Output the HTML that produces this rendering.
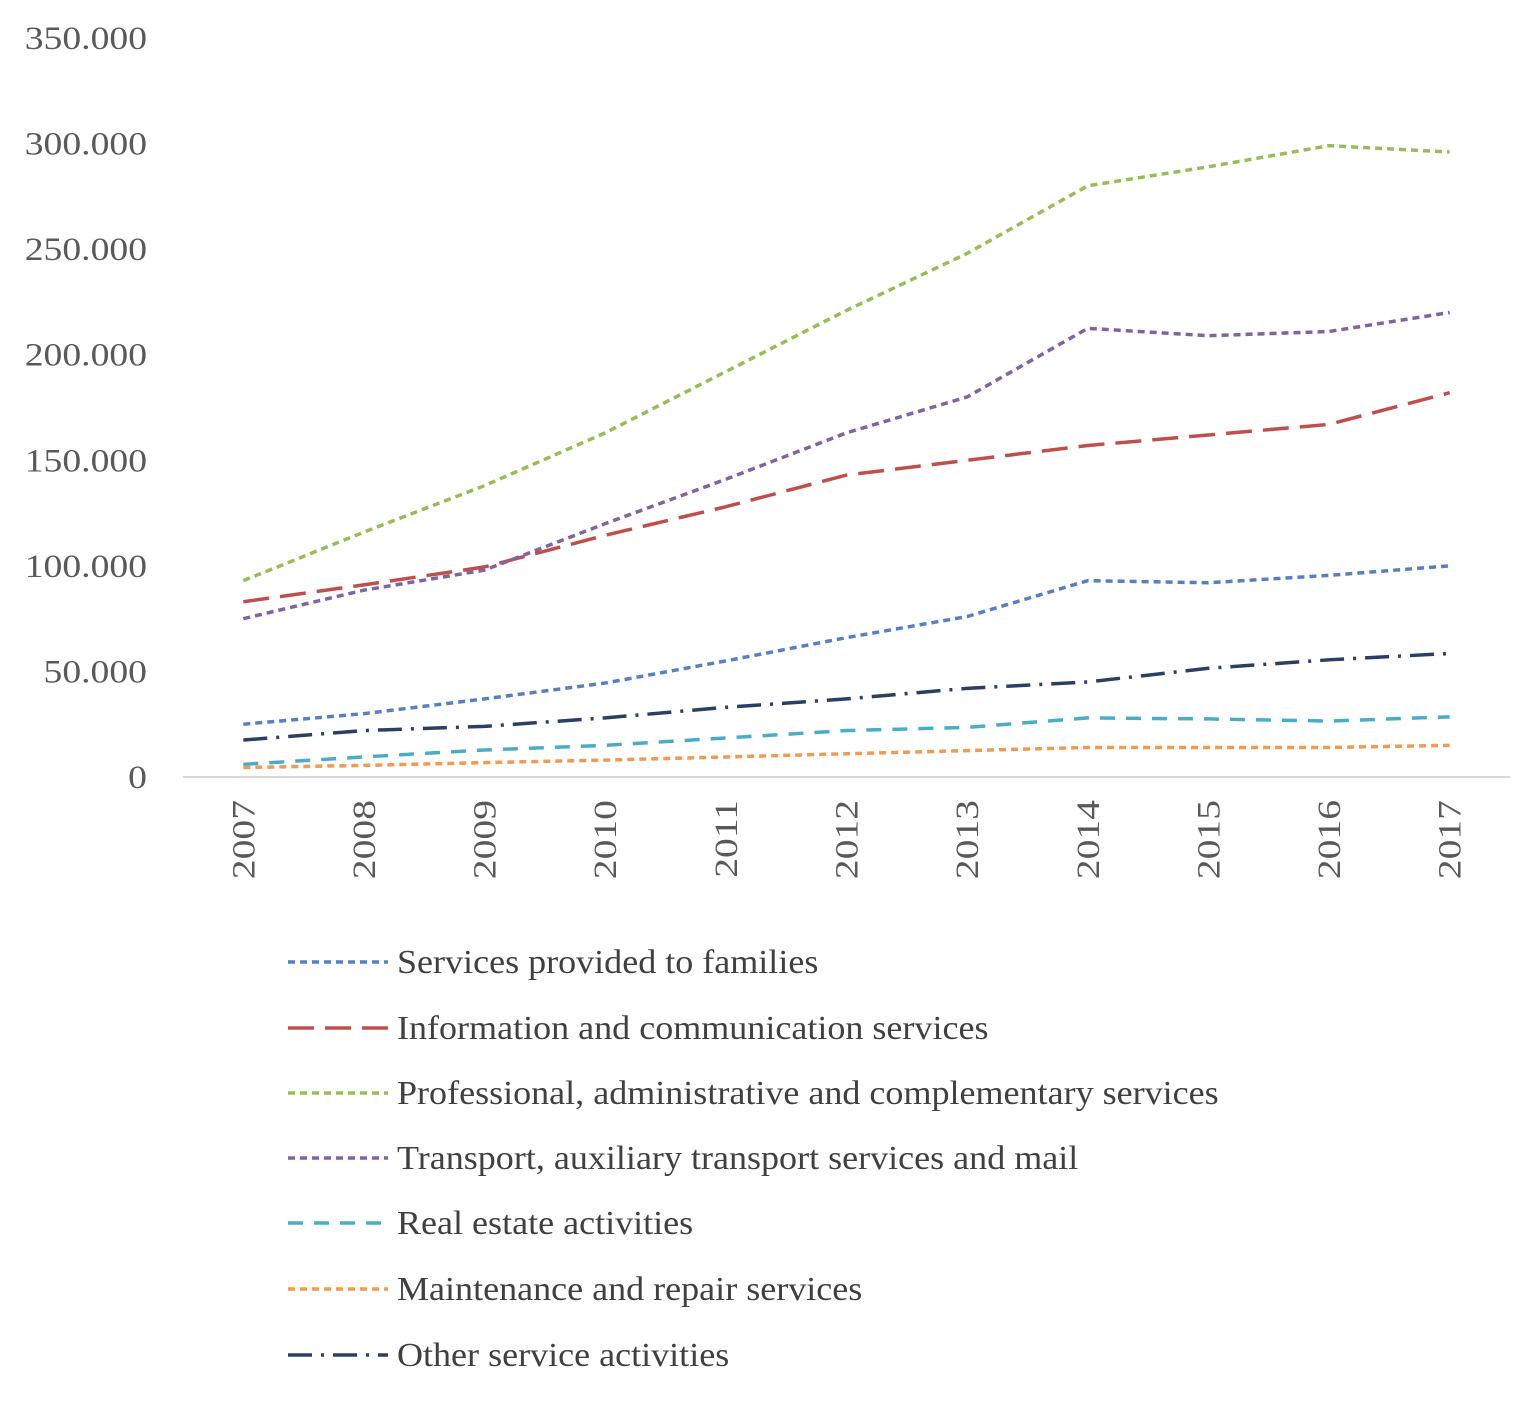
<!DOCTYPE html>
<html>
<head>
<meta charset="utf-8">
<style>
  html,body{margin:0;padding:0;background:#fff;}
  svg{display:block;}
  text{font-family:"Liberation Serif",serif;}
</style>
</head>
<body>
<svg id="chart" width="1540" height="1408" viewBox="0 0 1540 1408" xmlns="http://www.w3.org/2000/svg">
  <g id="yaxis"></g>
  <g id="xaxis"></g>
  <g id="series"></g>
  <g id="legend"></g>
</svg>
<script>
const years = ["2007","2008","2009","2010","2011","2012","2013","2014","2015","2016","2017"];
const yTicks = [0,50000,100000,150000,200000,250000,300000,350000];
const yTickLabels = ["0","50.000","100.000","150.000","200.000","250.000","300.000","350.000"];
const seriesNames = [
  "Services provided to families",
  "Information and communication services",
  "Professional, administrative and complementary services",
  "Transport, auxiliary transport services and mail",
  "Real estate activities",
  "Maintenance and repair services",
  "Other service activities"
];
const families = [25000,30000,37000,44500,55000,66000,76000,93000,92000,95500,100000];
const infoComm = [83000,91000,99500,114500,128000,143000,150000,157000,162000,167000,182000];
const professional = [93000,116000,138000,163000,192000,221000,248000,280000,289000,299000,296000];
const transport = [75000,88500,98000,120000,141000,163000,180000,212500,209000,211000,220000];
const realEstate = [6000,9500,12800,15000,18500,22000,23500,28000,27500,26500,28500];
const maintenance = [4500,5500,6800,8000,9500,11000,12500,14000,14000,14000,15000];
const otherServices = [17500,22000,24000,28000,33000,37000,42000,45000,51500,55500,58500];

const NS = "http://www.w3.org/2000/svg";
const plotLeft = 183, plotRight = 1510, y0 = 777, yTop = 38, yMax = 350000;
const band = (plotRight - plotLeft) / years.length;
function xPos(i){ return plotLeft + band * (i + 0.5); }
function yPos(v){ return y0 - (v / yMax) * (y0 - yTop); }
function stretch(t, f){
  const L = t.getComputedTextLength();
  if (L > 0) { t.setAttribute("textLength", L * f); t.setAttribute("lengthAdjust", "spacingAndGlyphs"); }
}

const styles = [
  {data: families, color:"#5680C2", dash:"7 5", w:3.5},
  {data: infoComm, color:"#BE504C", dash:"26 11", w:3.5},
  {data: professional, color:"#9BBB59", dash:"7 5", w:3.5},
  {data: transport, color:"#7F64A1", dash:"7 5", w:3.5},
  {data: realEstate, color:"#4BACC6", dash:"15 11", w:3.5},
  {data: maintenance, color:"#F29A4E", dash:"7 5", w:3.5},
  {data: otherServices, color:"#2B3F63", dash:"24 9 3 9", w:3.5}
];

const yaxis = document.getElementById("yaxis");
yTicks.forEach((t,i)=>{
  const tx = document.createElementNS(NS,"text");
  
  
  tx.setAttribute("x", 147);
  tx.setAttribute("y", yPos(t) + 11);
  tx.setAttribute("text-anchor","end");
  tx.setAttribute("font-size","33");
  tx.setAttribute("fill","#595959");
  tx.textContent = yTickLabels[i];
  yaxis.appendChild(tx);
  stretch(tx, 1.14);
});

const xaxis = document.getElementById("xaxis");
const axisLine = document.createElementNS(NS,"line");


axisLine.setAttribute("x1", plotLeft); axisLine.setAttribute("x2", plotRight);
axisLine.setAttribute("y1", y0); axisLine.setAttribute("y2", y0);
axisLine.setAttribute("stroke","#D9D9D9"); axisLine.setAttribute("stroke-width","2");
xaxis.appendChild(axisLine);
years.forEach((yr,i)=>{
  const tx = document.createElementNS(NS,"text");
  
  
  const x = xPos(i) + 11, y = 800;
  tx.setAttribute("x", x); tx.setAttribute("y", y);
  tx.setAttribute("transform", "rotate(-90 " + x + " " + y + ")");
  tx.setAttribute("text-anchor","end");
  tx.setAttribute("font-size","33");
  tx.setAttribute("fill","#595959");
  tx.textContent = yr;
  xaxis.appendChild(tx);
  stretch(tx, 1.2);
});

const series = document.getElementById("series");
styles.forEach((s,k)=>{
  const p = document.createElementNS(NS,"polyline");
  
  
  p.setAttribute("points", s.data.map((v,i)=>xPos(i)+","+yPos(v)).join(" "));
  p.setAttribute("fill","none");
  p.setAttribute("stroke", s.color);
  p.setAttribute("stroke-width", s.w);
  p.setAttribute("stroke-dasharray", s.dash);
  p.setAttribute("stroke-linejoin","round");
  series.appendChild(p);
});

const legend = document.getElementById("legend");
const rowY = [962,1028,1093,1158,1223,1289,1355];
seriesNames.forEach((n,k)=>{
  const g = document.createElementNS(NS,"g");
  
  
  const l = document.createElementNS(NS,"line");
  l.setAttribute("x1",288); l.setAttribute("x2",388);
  l.setAttribute("y1",rowY[k]); l.setAttribute("y2",rowY[k]);
  l.setAttribute("stroke",styles[k].color);
  l.setAttribute("stroke-width",styles[k].w);
  l.setAttribute("stroke-dasharray",styles[k].dash);
  g.appendChild(l);
  const t = document.createElementNS(NS,"text");
  t.setAttribute("x",397); t.setAttribute("y",rowY[k]+11);
  t.setAttribute("font-size","34");
  t.setAttribute("fill","#404040");
  t.textContent = n;
  g.appendChild(t);
  legend.appendChild(g);
  stretch(t, 1.06);
});
</script>
</body>
</html>
